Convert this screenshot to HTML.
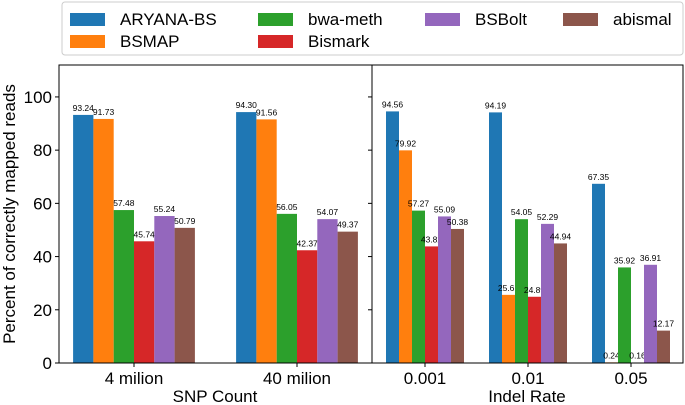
<!DOCTYPE html>
<html><head><meta charset="utf-8"><style>
body{margin:0;background:#fff;}
svg{display:block;font-family:"Liberation Sans",Arial,sans-serif;}
</style></head><body>
<svg id="c" width="685" height="405"></svg>
<script>
const series=["ARYANA-BS","BSMAP","bwa-meth","Bismark","BSBolt","abismal"];
const colors=["#1f77b4","#ff7f0e","#2ca02c","#d62728","#9467bd","#8c564b"];
const leftCats=["4 milion","40 milion"];
const rightCats=["0.001","0.01","0.05"];
const leftVals=[[93.24,91.73,57.48,45.74,55.24,50.79],[94.30,91.56,56.05,42.37,54.07,49.37]];
const rightVals=[[94.56,79.92,57.27,43.82,55.09,50.38],[94.19,25.61,54.05,24.89,52.29,44.94],[67.35,0.24,35.92,0.16,36.91,12.17]];
const yTicks=[0,20,40,60,80,100];
const NS="http://www.w3.org/2000/svg";
const svg=document.getElementById('c');
function mk(t,a,p){const e=document.createElementNS(NS,t);for(const k in a)e.setAttribute(k,a[k]);(p||svg).appendChild(e);return e;}
const y0=363,yMax=112,ppu=(363-65)/yMax;
const y=v=>y0-v*ppu;
const panels=[{x0:59,x1:372,cats:leftCats,vals:leftVals,centers:[134,297],bw:20.3,title:"SNP Count",tx:215},
{x0:372,x1:683,cats:rightCats,vals:rightVals,centers:[425,528,631],bw:13,title:"Indel Rate",tx:527}];
panels.forEach((p,pi)=>{
  p.vals.forEach((grp,gi)=>{
    grp.forEach((v,si)=>{
      const bx=p.centers[gi]-3*p.bw+si*p.bw;
      const r=mk('rect',{x:bx,y:y(v),width:p.bw,height:v*ppu,fill:colors[si]});
      
      
      const t=mk('text',{x:bx+p.bw/2,y:y(v)-4,'font-size':8.5,'text-anchor':'middle',fill:'#000'});
      t.textContent=v.toFixed(2);
      
      
    });
    mk('line',{x1:p.centers[gi],x2:p.centers[gi],y1:y0,y2:y0+4,stroke:'#000'});
    const tl=mk('text',{x:p.centers[gi],y:y0+21,'font-size':17,'text-anchor':'middle'});
    tl.textContent=p.cats[gi];
    
    
  });
  const tt=mk('text',{x:p.tx,y:402,'font-size':17,'text-anchor':'middle'});
  tt.textContent=p.title;
  
  
  yTicks.forEach(v=>{
    mk('line',{x1:p.x0-4,x2:p.x0,y1:y(v),y2:y(v),stroke:'#000'});
    if(pi===0){
      const l=mk('text',{x:p.x0-7,y:y(v)+6,'font-size':17,'text-anchor':'end'});
      l.textContent=v;
      
      
    }
  });
  const f=mk('rect',{x:p.x0,y:65,width:p.x1-p.x0,height:y0-65,fill:'none',stroke:'#000','stroke-width':1});
  
  
});
const yt=mk('text',{x:0,y:0,'font-size':17,'text-anchor':'middle',transform:'translate(15,214) rotate(-90)'});
yt.textContent="Percent of correctly mapped reads";


const lg=mk('g',{});


mk('rect',{x:62,y:2,width:621,height:53,rx:3,fill:'#fff',stroke:'#ccc'},lg);
const lx=[70,258,425,563];
series.forEach((s,i)=>{
  const col=i<2?0:i<4?1:i===4?2:3;
  const row=(i===1||i===3)?1:0;
  const gx=lx[col],gy=row?41:19;
  const sw=mk('rect',{x:gx,y:gy-6,width:35,height:13,fill:colors[i]},lg);
  
  
  const t=mk('text',{x:gx+50,y:gy+6,'font-size':17},lg);
  t.textContent=s;
  
  
});
</script>
</body></html>
